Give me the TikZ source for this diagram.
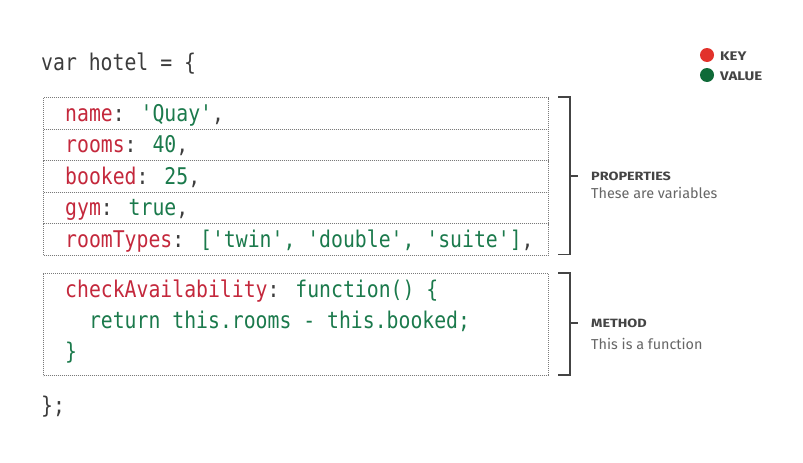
\documentclass[tikz,border=0pt]{standalone}
\usepackage{fontspec}
\setmainfont{Fira Sans}
\newfontfamily\codefont[FakeStretch=0.86]{DejaVu Sans Mono}
\newfontfamily\headfont[FakeStretch=1.2]{Fira Sans}
\definecolor{keyred}{HTML}{C4283C}
\definecolor{valgreen}{HTML}{1B7A4C}
\definecolor{codegray}{HTML}{3C3C3C}
\definecolor{dotgray}{HTML}{7A7A7A}
\definecolor{labelgray}{HTML}{444444}
\definecolor{subgray}{HTML}{666666}
\definecolor{dotred}{HTML}{E2322B}
\definecolor{dotgreen}{HTML}{0F6A38}
\newcommand{\kk}[1]{\textcolor{keyred}{#1}}
\newcommand{\vv}[1]{\textcolor{valgreen}{#1}}
\begin{document}
\begin{tikzpicture}[x=1pt,y=-1pt,
  code/.style={font=\codefont\fontsize{23}{23}\selectfont, text=codegray, anchor=base west, inner sep=0pt},
  rowbox/.style={draw=dotgray, line width=1.1pt, dash pattern=on 0.9pt off 1.1pt, minimum width=505pt, anchor=north west, inner sep=0pt},
  bracket/.style={draw=labelgray, line width=1.8pt},
  head/.style={font=\headfont\bfseries\fontsize{12}{13}\selectfont, text=labelgray, anchor=base west, inner sep=0pt},
  sub/.style={font=\fontsize{14.4}{16}\selectfont, text=subgray, anchor=base west, inner sep=0pt},
  legend/.style={font=\headfont\bfseries\fontsize{12.5}{13}\selectfont, text=labelgray, anchor=base west, inner sep=0pt}
]
\useasboundingbox[fill=white] (0,0) rectangle (803,463);

% property rows
\node[rowbox, minimum height=31.5pt] (r1) at (43,97) {};
\node[rowbox, minimum height=31.5pt] (r2) at (43,128.5) {};
\node[rowbox, minimum height=31.5pt] (r3) at (43,160) {};
\node[rowbox, minimum height=31.5pt] (r4) at (43,191.5) {};
\node[rowbox, minimum height=31.5pt] (r5) at (43,223) {};
% method box
\node[rowbox, minimum height=102pt] (mbox) at (43,273) {};

% code text
\node[code] (l0) at (41,70) {var hotel = \{};
\node[code] (l1) at (65,121) {\kk{name}: \vv{'Quay'},};
\node[code] (l2) at (65,152.5) {\kk{rooms}: \vv{40},};
\node[code] (l3) at (65,184) {\kk{booked}: \vv{25},};
\node[code] (l4) at (65,215.5) {\kk{gym}: \vv{true},};
\node[code] (l5) at (65,247) {\kk{roomTypes}: \vv{['twin', 'double', 'suite']},};
\node[code] (m1) at (65,297.5) {\kk{checkAvailability}: \vv{function() \{}};
\node[code] (m2) at (65,328.5) {\vv{\ \ return this.rooms - this.booked;}};
\node[code] (m3) at (65,359.5) {\vv{\}}};
\node[code] (l9) at (41,413) {\};};

% brackets
\coordinate (pb1) at (558,97);
\coordinate (pb2) at (570,97);
\coordinate (pb3) at (570,254.5);
\coordinate (pb4) at (558,254.5);
\coordinate (pm) at (570,176);
\coordinate (pt) at (578,176);
\draw[bracket] (pb1) -- (pb2) -- (pb3) -- (pb4);
\draw[bracket] (pm) -- (pt);

\coordinate (mb1) at (558,273);
\coordinate (mb2) at (570,273);
\coordinate (mb3) at (570,375);
\coordinate (mb4) at (558,375);
\coordinate (mm) at (570,323);
\coordinate (mt) at (578,323);
\draw[bracket] (mb1) -- (mb2) -- (mb3) -- (mb4);
\draw[bracket] (mm) -- (mt);

% labels
\node[head] (ph) at (591,180) {PROPERTIES};
\node[sub] (ps) at (591,198.5) {These are variables};
\node[head] (mh) at (591,327.5) {METHOD};
\node[sub] (ms) at (591,349) {This is a function};

% legend
\node[circle, fill=dotred, minimum size=14pt, inner sep=0pt] (kdot) at (707,55) {};
\node[circle, fill=dotgreen, minimum size=14pt, inner sep=0pt] (vdot) at (707,75) {};
\node[legend] (kl) at (720,60) {KEY};
\node[legend] (vl) at (720,80) {VALUE};
\end{tikzpicture}
\end{document}
